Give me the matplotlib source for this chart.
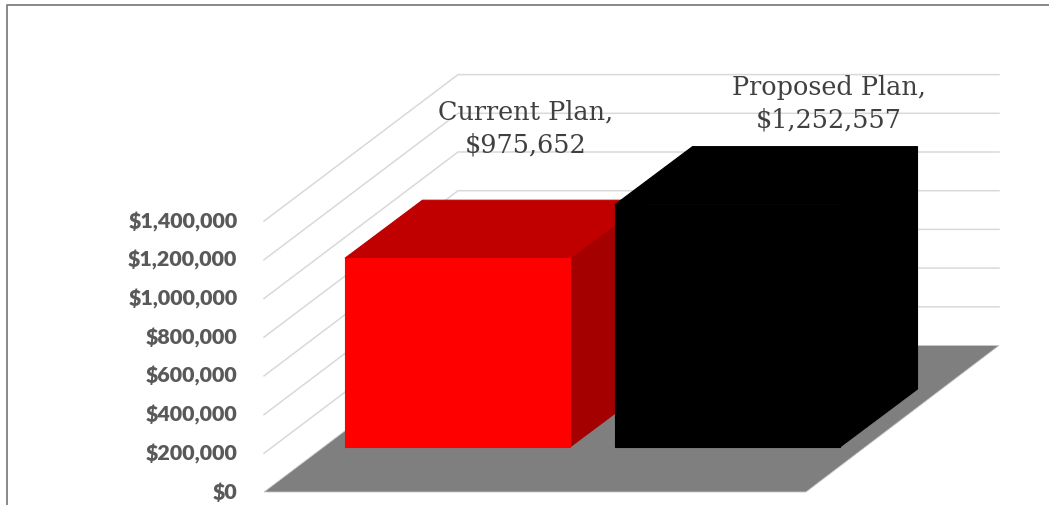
import matplotlib
matplotlib.use('Agg')
import matplotlib.pyplot as plt
from matplotlib.patches import Polygon

# chart data
plans = ['Current Plan', 'Proposed Plan']
costs = [975652, 1252557]
y_ticks = [0, 200000, 400000, 600000, 800000, 1000000, 1200000, 1400000]
y_labels = ['$0', '$200,000', '$400,000', '$600,000', '$800,000',
            '$1,000,000', '$1,200,000', '$1,400,000']

W, H = 1049, 506
PX_PER_UNIT = 38.7 / 200000     # vertical pixels for one dollar
BASE_PX = 493                   # pixel row of $0 at the front of the floor


def val(px_rows):
    # height in dollars for a length in pixel rows
    return px_rows / PX_PER_UNIT


fig = plt.figure(figsize=(W / 100, H / 100), dpi=100, facecolor='white')
ax = fig.add_axes([0, 0, 1, 1])
ax.set_xlim(0, W)
ax.set_ylim(val(BASE_PX - H), val(BASE_PX))
ax.axis('off')

# outer frame, only left and top fall inside the canvas
top_val = val(BASE_PX - 6)
bottom_val = val(BASE_PX - H)
ax.plot([6.5, 6.5, W], [bottom_val, top_val, top_val], color='#7f7f7f', lw=1.3, zorder=1)

# 3D box geometry
wall_x0, wall_dx = 264, 194
wall_dy = val(146.5)
right_x = 999
floor_front_right = 806

for t in y_ticks[1:]:
    ax.plot([wall_x0, wall_x0 + wall_dx, right_x], [t, t + wall_dy, t + wall_dy],
            color='#d9d9d9', lw=1.1, zorder=2, solid_joinstyle='miter')

floor = Polygon([(wall_x0, 0), (floor_front_right, 0),
                 (right_x, wall_dy), (wall_x0 + wall_dx, wall_dy)],
                closed=True, fc='#7f7f7f', ec='#c8c8c8', lw=0.6, zorder=3)
ax.add_patch(floor)

# bars: front face, roof and right side, the base sits above the floor front
bar_lefts = [345, 615]
bar_w = 225
bar_base = val(BASE_PX - 448)
depth_x, depth_y = 77.5, val(58)
front_cols = ['#ff0000', '#000000']
roof_cols = ['#c00000', '#000000']
side_cols = ['#a50000', '#000000']

for i, v in enumerate(costs):
    x0 = bar_lefts[i]
    x1 = x0 + bar_w
    y0 = bar_base
    y1 = bar_base + v
    z = 4 + i
    # edges in the face colour hide the seams between faces
    ax.add_patch(Polygon([(x1, y0), (x1 + depth_x, y0 + depth_y),
                          (x1 + depth_x, y1 + depth_y), (x1, y1)],
                         closed=True, fc=side_cols[i], ec=side_cols[i], lw=0.8, zorder=z))
    ax.add_patch(Polygon([(x0, y1), (x1, y1), (x1 + depth_x, y1 + depth_y),
                          (x0 + depth_x, y1 + depth_y)],
                         closed=True, fc=roof_cols[i], ec=roof_cols[i], lw=0.8, zorder=z))
    ax.add_patch(Polygon([(x0, y0), (x1, y0), (x1, y1), (x0, y1)],
                         closed=True, fc=front_cols[i], ec=front_cols[i], lw=0.8, zorder=z))

# value axis labels
for t, lab in zip(y_ticks, y_labels):
    ax.text(237.5, t + val(0.5), lab, ha='right', va='center', family='Lato', fontweight='heavy',
            fontsize=15.4, color='#595959', zorder=6)

# data labels, each placed by hand above its bar
label_x = [525.5, 829]
label_rows = [128.5, 104]
for i, v in enumerate(costs):
    ax.text(label_x[i], val(BASE_PX - label_rows[i]),
            f'{plans[i]},\n${v:,}', ha='center', va='center', multialignment='center',
            family='DejaVu Serif', fontsize=18.4, color='#404040',
            linespacing=1.36, zorder=7)

fig.savefig('out.png', dpi=100)
